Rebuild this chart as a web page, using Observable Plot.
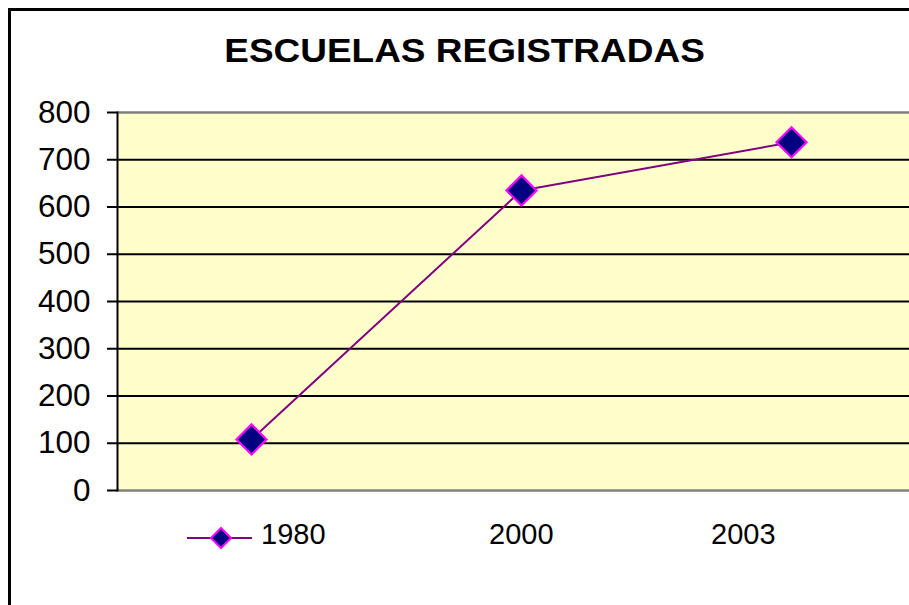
<!DOCTYPE html>
<html>
<head>
<meta charset="utf-8">
<script src="https://cdn.jsdelivr.net/npm/d3@7"></script>
<script src="https://cdn.jsdelivr.net/npm/@observablehq/plot@0.6"></script>
<style>
  html, body { margin: 0; padding: 0; background: #fff; overflow: hidden; }
  #wrap { position: relative; width: 909px; height: 605px; overflow: hidden; font-family: "Liberation Sans", Arial, sans-serif; }
  #border { position: absolute; left: 8px; top: 8px; width: 1000px; height: 700px; border: 3px solid #000; box-sizing: border-box; }
  #title { position: absolute; left: 0; width: 930px; top: 31px; text-align: center; font-weight: bold; font-size: 33px; line-height: 40px; color: #000; }
  #title span { display: inline-block; transform: scaleX(1.12); }
  #chart { position: absolute; left: 0; top: 0; }
  .leg { position: absolute; top: 517px; font-size: 29px; line-height: 34px; color: #000; }
</style>
</head>
<body>
<div id="wrap">
  <div id="border"></div>
  <div id="chart"></div>
  <div id="title"><span>ESCUELAS REGISTRADAS</span></div>
  <div id="legend"></div>
</div>
<script>
const years = ["1980", "2000", "2003"];
const schools = [108, 635, 737];
const yTicks = [0, 100, 200, 300, 400, 500, 600, 700, 800];
const legendLabels = ["1980", "2000", "2003"];

const data = years.map((y, i) => ({year: y, value: schools[i]}));

const chart = Plot.plot({
  width: 909,
  height: 605,
  marginTop: 112,
  marginBottom: 115,
  marginLeft: 117,
  marginRight: 0,
  style: {fontFamily: "'Liberation Sans', Arial, sans-serif", fontSize: "31.5px", color: "#000", background: "transparent"},
  x: {type: "point", domain: years, range: [116, 926], axis: null},
  y: {domain: [0, 800], axis: null},
  marks: [
    Plot.frame({fill: "#FFFFCC", stroke: null}),
    Plot.gridY(yTicks.filter(d => d > 0 && d < 800), {stroke: "#000", strokeOpacity: 1, strokeWidth: 2}),
    Plot.ruleY([0, 800], {stroke: "#808080", strokeWidth: 2.5}),
    Plot.axisY({ticks: yTicks, tickSize: 10, tickPadding: 17, label: null, stroke: "#000", strokeWidth: 2, fill: "#000", tickFormat: d => String(d)}),
    Plot.frame({anchor: "left", stroke: "#000", strokeWidth: 2}),
    Plot.line(data, {x: "year", y: "value", stroke: "#800080", strokeWidth: 2}),
    Plot.dot(data, {x: "year", y: "value", symbol: "square", rotate: 45, r: 12, fill: "#000080", stroke: "#FF00FF", strokeWidth: 2.2})
  ]
});
document.getElementById("chart").appendChild(chart);

// Legend
const legend = document.getElementById("legend");
const legLeft = [261, 489, 711];
legendLabels.forEach((lab, i) => {
  const d = document.createElement("div");
  d.className = "leg";
  d.style.left = legLeft[i] + "px";
  d.textContent = lab;
  legend.appendChild(d);
});
const ns = "http://www.w3.org/2000/svg";
const sw = document.createElementNS(ns, "svg");
sw.setAttribute("width", 70);
sw.setAttribute("height", 30);
sw.style.position = "absolute";
sw.style.left = "185px";
sw.style.top = "523px";
const ln = document.createElementNS(ns, "line");
ln.setAttribute("x1", 2); ln.setAttribute("x2", 67);
ln.setAttribute("y1", 15); ln.setAttribute("y2", 15);
ln.setAttribute("stroke", "#800080"); ln.setAttribute("stroke-width", 2.2);
sw.appendChild(ln);
const dm = document.createElementNS(ns, "path");
dm.setAttribute("d", "M36,5L46,15L36,25L26,15Z");
dm.setAttribute("fill", "#000080"); dm.setAttribute("stroke", "#FF00FF"); dm.setAttribute("stroke-width", 2);
sw.appendChild(dm);
legend.appendChild(sw);
</script>
</body>
</html>
